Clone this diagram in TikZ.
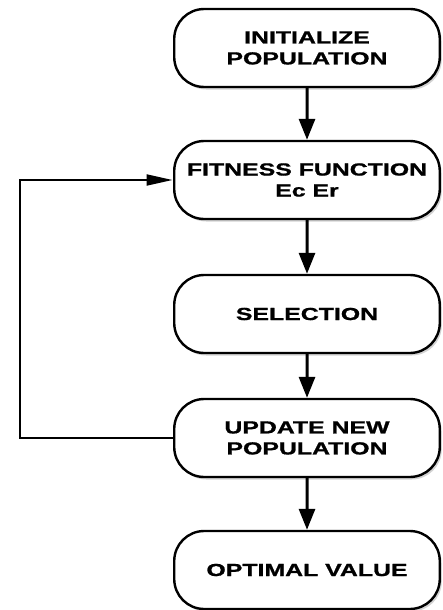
\documentclass[tikz,border=0pt]{standalone}
\usepackage{fontspec}
\setmainfont[BoldFeatures={FakeBold=0.9}]{Liberation Sans}
\usetikzlibrary{arrows.meta,shadows}

\tikzset{
    stepbox/.style={draw, line width=2.4pt, rounded corners=30pt,
        xscale=1.42, transform shape,
        minimum width=187pt, minimum height=78pt, align=center,
        fill=white, drop shadow={shadow xshift=2pt, shadow yshift=-2.5pt, opacity=0.35},
        font=\fontsize{17.5}{21}\selectfont\bfseries},
    flow/.style={line width=3pt, -{Triangle[width=16pt,length=21pt]}},
    back/.style={line width=2pt, -{Triangle[width=11pt,length=26pt]}}
}

\begin{document}
\begin{tikzpicture}[x=1pt,y=1pt]
        % Page frame in pixels of the reference
        \useasboundingbox (0,0) rectangle (443,-610);
        \def\colX{307}

        % The five steps
        \node[stepbox] (init)    at (\colX,-48)  {INITIALIZE\\POPULATION};
        \node[stepbox] (fitness) at (\colX,-180) {FITNESS FUNCTION\\Ec Er};
        \node[stepbox] (select)  at (\colX,-314) {SELECTION};
        \node[stepbox] (update)  at (\colX,-438) {UPDATE NEW\\POPULATION};
        \node[stepbox] (optimal) at (\colX,-570) {OPTIMAL VALUE};

        % Main flow
        \draw[flow] (init) -- (fitness);
        \draw[flow] (fitness) -- (select);
        \draw[flow] (select) -- (update);
        \draw[flow] (update) -- (optimal);

        % Loop back to the fitness step
        \coordinate (loopX) at (20,0);
        \draw[back] (update.west) -- (update.west -| loopX)
            -- (fitness.west -| loopX) -- (fitness.west);

    \end{tikzpicture}
\end{document}
